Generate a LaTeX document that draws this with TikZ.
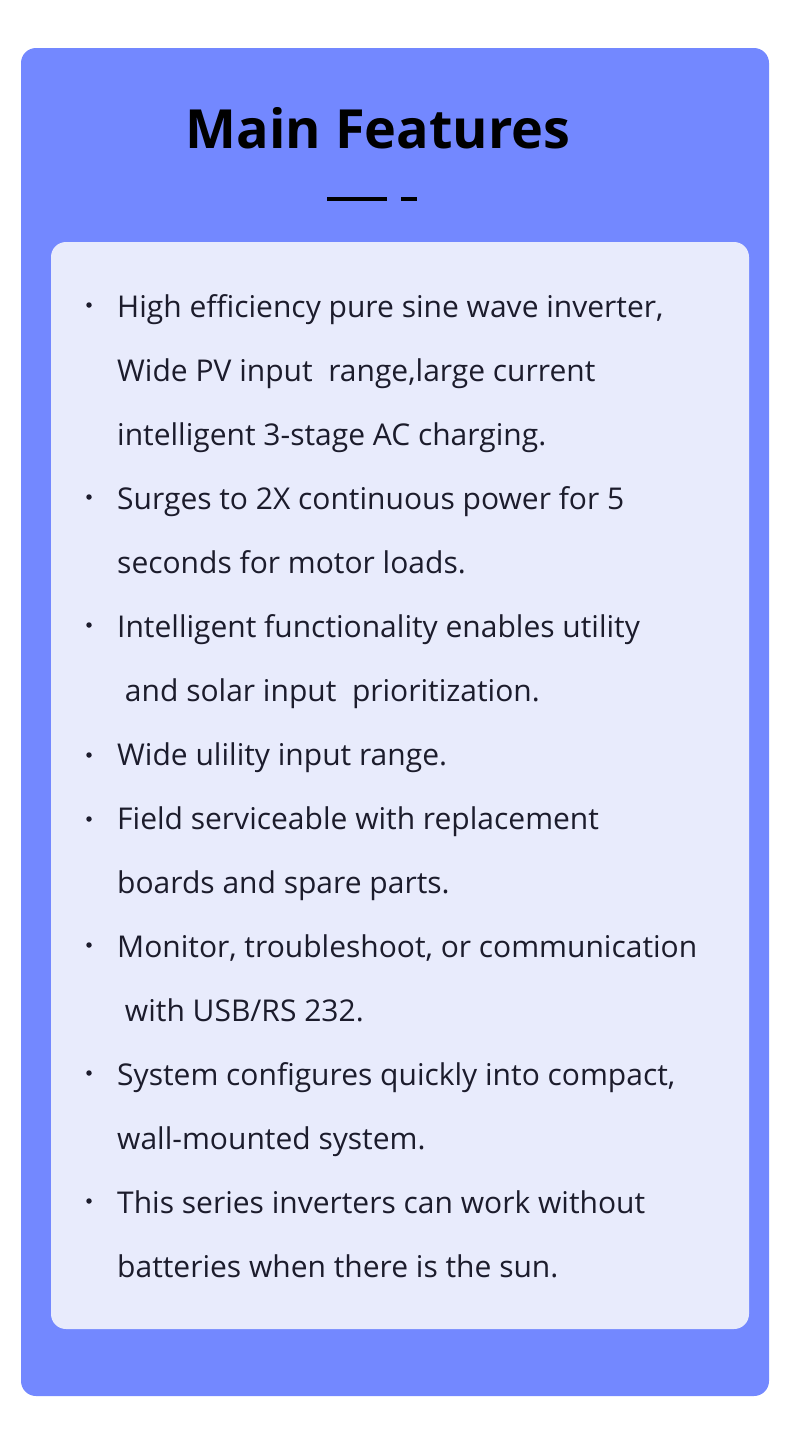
\documentclass[tikz,border=0pt]{standalone}
\usepackage{fontspec}
\setmainfont{Open Sans}
\definecolor{outerc}{HTML}{7388FF}
\definecolor{innerc}{HTML}{E8EBFC}
\definecolor{txt}{HTML}{1C1C2C}
\begin{document}
\begin{tikzpicture}[x=1pt,y=-1pt,
 line/.style={anchor=mid west,inner sep=0pt,font=\fontsize{30}{30}\selectfont, text=txt},
 bul/.style={circle,fill=txt,inner sep=0pt,minimum size=5.5pt}]
\useasboundingbox (0,0) rectangle (790,1449);
\node[fill=outerc,rounded corners=15pt,minimum width=748pt,minimum height=1348pt,inner sep=0pt] (outer) at (395,722) {};
\node[fill=innerc,rounded corners=15pt,minimum width=698pt,minimum height=1087pt,inner sep=0pt] (inner) at (400,785.5) {};
\node[font=\fontsize{54}{54}\selectfont\bfseries,text=black,inner sep=0pt] (title) at (378,128) {Main Features};
\fill[black] (327,197) rectangle (387,201);
\fill[black] (401,197) rectangle (417,201);
\foreach \y/\t [count=\i] in {307/{High efficiency pure sine wave inverter,},371/{Wide PV input \ range,large current},435/{intelligent 3-stage AC charging.},499/{Surges to 2X continuous power for 5},563/{seconds for motor loads.},627/{Intelligent functionality enables utility},691/{\ and solar input \ prioritization.},755/{Wide ulility input range.},819/{Field serviceable with replacement},883/{boards and spare parts.},947/{Monitor, troubleshoot, or communication},1011/{\ with USB/RS 232.},1075/{System configures quickly into compact,},1139/{wall-mounted system.},1203/{This series inverters can work without},1267/{batteries when there is the sun.}}
 \node[line] (l\i) at (117,\y+8) {\t};
\foreach \y [count=\i] in {305,497,625,755,819,945,1073,1201}
 \node[bul] (b\i) at (89,\y) {};
\end{tikzpicture}
\end{document}
